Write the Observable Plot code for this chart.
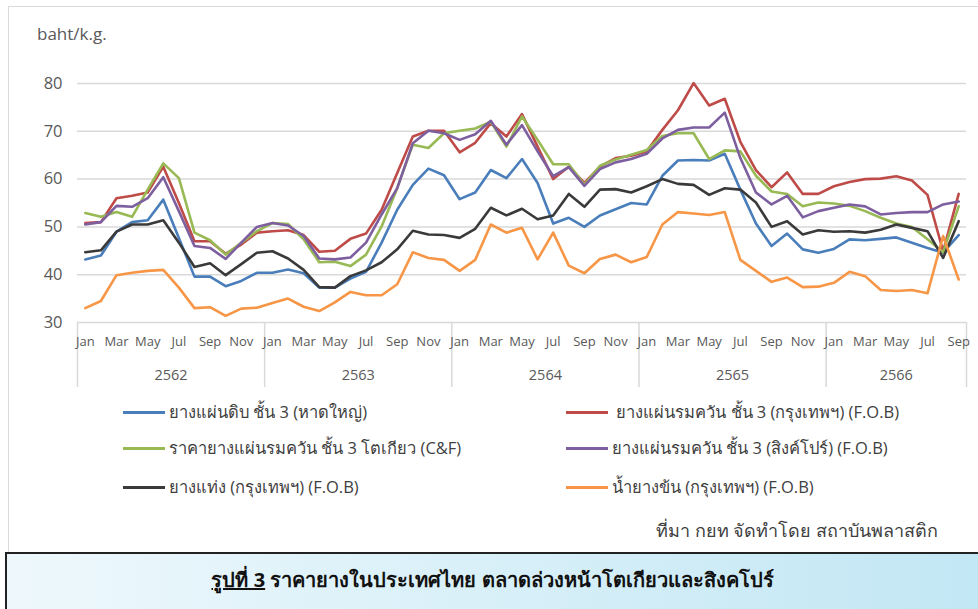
<!DOCTYPE html>
<html>
<head>
<meta charset="utf-8">
<script src="https://cdn.jsdelivr.net/npm/d3@7"></script>
<script src="https://cdn.jsdelivr.net/npm/@observablehq/plot@0.6"></script>
<style>
  html, body { margin: 0; padding: 0; background: #fff; }
  body { width: 978px; height: 609px; position: relative; overflow: hidden;
         font-family: "Open Sans", "Noto Sans", "DejaVu Sans", sans-serif; color: #595959; }
  #frame { position: absolute; left: 8px; top: 6px; width: 980px; height: 548px;
           border-left: 1.5px solid #d9d9d9; border-top: 1.5px solid #d9d9d9; }
  #unit { position: absolute; left: 37px; top: 22px; font-size: 17px; color: #595959; }
  #chart { position: absolute; left: 0; top: 0; }
  .leg { position: absolute; display: flex; align-items: center; font-size: 16.5px; color: #404040; white-space: nowrap; }
  .leg .sw { width: 42px; height: 3px; margin-right: 4px; }
  #source { position: absolute; right: 40px; top: 516px; font-size: 18px; color: #404040; }
  #caption { position: absolute; left: 5px; top: 552px; width: 975px; height: 60px;
             border: 2px solid #222; box-sizing: border-box;
             background: linear-gradient(to right, #eef8fc, #c2e7f4);
             text-align: center; font-weight: bold; font-size: 20px; color: #111; line-height: 52px; }
  #caption u { text-decoration: underline; }
</style>
</head>
<body>
<div id="frame"></div>
<div id="unit">baht/k.g.</div>
<div id="chart"></div>
<div id="legend"></div>
<div id="source">ที่มา กยท จัดทำโดย สถาบันพลาสติก</div>
<div id="caption"><u>รูปที่ 3</u> ราคายางในประเทศไทย ตลาดล่วงหน้าโตเกียวและสิงคโปร์</div>
<script>
// Category axis
const monthNames = ["Jan","Feb","Mar","Apr","May","Jun","Jul","Aug","Sep","Oct","Nov","Dec"];
const years = ["2562","2563","2564","2565","2566"];
const monthsPerYear = [12, 12, 12, 12, 9];
const yTicks = [30, 40, 50, 60, 70, 80];

// Series names (legend order)
const seriesNames = [
  "ยางแผ่นดิบ ชั้น 3 (หาดใหญ่)",
  " ยางแผ่นรมควัน ชั้น 3 (กรุงเทพฯ) (F.O.B)",
  "ราคายางแผ่นรมควัน ชั้น 3 โตเกียว (C&F)",
  "ยางแผ่นรมควัน ชั้น 3 (สิงค์โปร์) (F.O.B)",
  "ยางแท่ง (กรุงเทพฯ) (F.O.B)",
  "น้ำยางข้น (กรุงเทพฯ) (F.O.B)"
];
const seriesColors = ["#4a7ebb", "#be4b48", "#98b954", "#7d5fa0", "#3a3a3a", "#f79646"];

// Values, Jan 2562 .. Sep 2566 (57 months), baht/kg
const rssHatyai = [
  43.2, 44.0, 49.0, 51.0, 51.4, 55.7, 47.7, 39.6, 39.6, 37.6, 38.7, 40.4,
  40.4, 41.1, 40.3, 37.3, 37.3, 39.2, 40.6, 46.7, 53.6, 58.8, 62.2, 60.8,
  55.8, 57.2, 61.9, 60.2, 64.2, 59.2, 50.7, 51.9, 50.0, 52.4, 53.7, 55.0,
  54.7, 60.7, 63.9, 64.0, 63.9, 65.3, 57.8, 50.7, 46.0, 48.6, 45.3, 44.6,
  45.4, 47.4, 47.2, 47.5, 47.8, 46.7, 45.6, 44.6, 48.3
];
const rss3Bangkok = [
  50.8, 51.0, 56.0, 56.5, 57.2, 62.6, 55.0, 47.0, 47.0, 44.4, 46.3, 48.8,
  49.1, 49.3, 48.3, 44.8, 45.0, 47.5, 48.6, 53.6, 61.3, 68.9, 70.1, 70.1,
  65.6, 67.6, 71.7, 68.9, 73.6, 66.8, 60.0, 62.6, 59.2, 62.6, 64.4, 64.9,
  65.8, 70.3, 74.4, 80.1, 75.4, 76.8, 67.8, 61.9, 58.3, 61.4, 56.9, 56.9,
  58.5, 59.4, 60.0, 60.1, 60.6, 59.7, 56.7, 44.9, 56.9
];
const rss3Tokyo = [
  52.9, 52.1, 53.1, 52.1, 57.8, 63.3, 60.2, 48.8, 47.2, 44.2, 46.7, 49.1,
  50.8, 50.6, 47.4, 42.6, 42.7, 41.8, 44.2, 50.1, 58.1, 67.2, 66.5, 69.6,
  70.1, 70.6, 72.0, 66.8, 73.1, 68.2, 63.1, 63.1, 58.8, 62.8, 64.1, 65.1,
  66.1, 69.0, 69.6, 69.6, 64.2, 66.0, 65.8, 60.7, 57.4, 56.9, 54.3, 55.1,
  54.9, 54.4, 53.3, 51.9, 50.7, 50.0, 47.4, 44.7, 54.3
];
const rss3Singapore = [
  50.5, 51.0, 54.4, 54.2, 56.0, 60.4, 53.3, 46.0, 45.6, 43.3, 46.7, 50.0,
  50.8, 50.3, 48.1, 43.4, 43.2, 43.6, 46.7, 52.6, 58.1, 67.5, 70.1, 69.6,
  68.2, 69.4, 72.2, 67.2, 71.3, 65.8, 60.6, 62.5, 58.6, 62.1, 63.5, 64.2,
  65.3, 68.5, 70.3, 70.8, 70.8, 73.9, 64.4, 57.2, 54.7, 56.5, 52.0, 53.3,
  54.0, 54.7, 54.3, 52.6, 52.9, 53.1, 53.1, 54.7, 55.3
];
const str20Bangkok = [
  44.7, 45.1, 49.0, 50.5, 50.5, 51.4, 46.7, 41.6, 42.4, 39.9, 42.2, 44.6,
  44.9, 43.4, 41.0, 37.4, 37.3, 39.7, 40.9, 42.6, 45.3, 49.2, 48.4, 48.3,
  47.7, 49.6, 54.0, 52.4, 53.8, 51.6, 52.4, 56.9, 54.2, 57.8, 57.9, 57.2,
  58.5, 60.0, 59.0, 58.8, 56.7, 58.1, 57.8, 55.1, 50.0, 51.2, 48.4, 49.3,
  49.0, 49.1, 48.8, 49.4, 50.5, 49.8, 49.1, 43.5, 51.2
];
const latexBangkok = [
  33.0, 34.5, 39.9, 40.4, 40.8, 41.0, 37.3, 33.0, 33.2, 31.4, 32.9, 33.1,
  34.1, 35.0, 33.3, 32.4, 34.2, 36.4, 35.7, 35.7, 38.0, 44.7, 43.5, 43.1,
  40.8, 43.1, 50.5, 48.8, 49.8, 43.2, 48.8, 41.9, 40.3, 43.3, 44.2, 42.6,
  43.7, 50.5, 53.1, 52.8, 52.5, 53.1, 43.1, 40.8, 38.5, 39.4, 37.4, 37.5,
  38.3, 40.6, 39.7, 36.8, 36.6, 36.8, 36.1, 48.1, 39.0
];

const allSeries = [rssHatyai, rss3Bangkok, rss3Tokyo, rss3Singapore, str20Bangkok, latexBangkok];

// Build table and category helpers
const months = [];
years.forEach((yr, k) => { for (let m = 0; m < monthsPerYear[k]; m++) months.push({year: yr, m}); });
const rows = allSeries.flatMap((vals, s) => vals.map((v, i) => ({i, v, name: seriesNames[s]})));
const monthTicks = months.map((d, i) => i).filter(i => months[i].m % 2 === 0);
let start = 0;
const yearCenters = [], boundaries = [-0.5];
monthsPerYear.forEach(n => { yearCenters.push(start + (n - 1) / 2); start += n; boundaries.push(start - 0.5); });

const chart = Plot.plot({
  width: 978, height: 395,
  marginLeft: 77, marginRight: 12, marginTop: 83, marginBottom: 73,
  style: {fontFamily: '"Open Sans", "Noto Sans", sans-serif', color: "#595959", background: "transparent"},
  x: {domain: [-0.5, months.length - 0.5], axis: null},
  y: {domain: [30, 80], axis: null},
  color: {domain: seriesNames, range: seriesColors},
  marks: [
    Plot.gridY(yTicks, {stroke: "#d9d9d9", strokeOpacity: 1, strokeWidth: 1.5}),
    Plot.axisY(yTicks, {tickSize: 0, tickPadding: 15, fontSize: 16.5, fill: "#595959", label: null}),
    Plot.axisX(boundaries, {tickSize: 65, stroke: "#d9d9d9", strokeWidth: 1.5, strokeOpacity: 1, tickFormat: () => "", label: null}),
    Plot.axisX(monthTicks, {tickSize: 0, tickPadding: 14, fontSize: 13, fill: "#595959",
      tickFormat: i => monthNames[months[i].m], label: null}),
    Plot.axisX(yearCenters, {tickSize: 0, tickPadding: 47, fontSize: 14.5, fill: "#595959",
      tickFormat: (c, j) => years[j], label: null}),
    Plot.lineY(rows, {x: "i", y: "v", stroke: "name", strokeWidth: 2.6, z: "name"})
  ]
});
document.getElementById("chart").appendChild(chart);

// Legend (3 rows x 2 columns)
const legPos = [
  [123, 412], [566, 412],
  [123, 448], [566, 448],
  [123, 487], [566, 487]
];
const legend = document.getElementById("legend");
seriesNames.forEach((name, s) => {
  const el = document.createElement("div");
  el.className = "leg";
  el.style.left = legPos[s][0] + "px";
  el.style.top = (legPos[s][1] - 12) + "px";
  el.style.height = "24px";
  const sw = document.createElement("div");
  sw.className = "sw";
  sw.style.background = seriesColors[s];
  const tx = document.createElement("span");
  tx.textContent = name;
  tx.style.whiteSpace = "pre";
  el.appendChild(sw); el.appendChild(tx);
  legend.appendChild(el);
});
</script>
</body>
</html>
